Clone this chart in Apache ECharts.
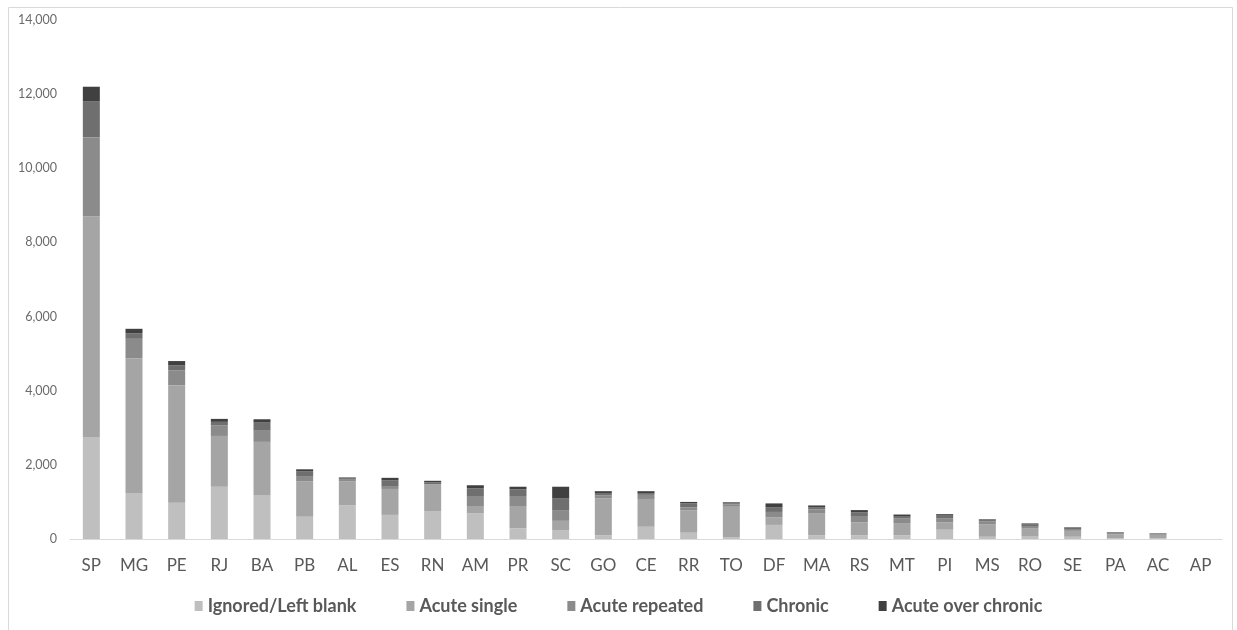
<!DOCTYPE html>
<html>
<head>
<meta charset="utf-8">
<script src="https://cdn.jsdelivr.net/npm/echarts@6/dist/echarts.min.js"></script>
<style>
  html, body { margin: 0; padding: 0; background: #ffffff; }
  #chart { width: 1237px; height: 630px; }
</style>
</head>
<body>
<div id="chart"></div>
<script>
// Notified cases by state, split by exposure type
const states = ['SP','MG','PE','RJ','BA','PB','AL','ES','RN','AM','PR','SC','GO','CE','RR','TO','DF','MA','RS','MT','PI','MS','RO','SE','PA','AC','AP'];

const ignoredBlank   = [2750,1230, 980,1410,1190, 600, 910, 650, 740, 690, 290, 240, 100, 330, 170,  50, 380, 100, 100, 100, 250,  60,  80,  60,  20,  20, 0];
const acuteSingle    = [5950,3640,3170,1370,1430, 950, 650, 700, 740, 200, 600, 250,1000, 750, 600, 820, 200, 600, 350, 330, 200, 340, 200, 160, 110,  90, 0];
const acuteRepeated  = [2140, 530, 400, 290, 300, 130,  40,  60,   0, 250, 250, 290,  80, 110,  80,  60, 150, 100, 170, 120, 100,  80,  70,  50,  30,  20, 0];
const chronic        = [ 960, 150, 130,  90, 220, 150,  30, 170,  50, 230, 200, 310,  60,  50, 110,  30, 130,  60, 100,  70,  80,  30,  40,  30,  15,  15, 0];
const acuteOnChronic = [ 400, 120, 120,  80,  90,  50,  30,  70,  40,  80,  70, 320,  50,  50,  40,  30, 100,  45,  60,  40,  40,  20,  30,  15,  10,  10, 0];

const yTicks = [0, 2000, 4000, 6000, 8000, 10000, 12000, 14000];

const seriesDefs = [
  { name: 'Ignored/Left blank', data: ignoredBlank,   color: '#bfbfbf' },
  { name: 'Acute single',       data: acuteSingle,    color: '#a5a5a5' },
  { name: 'Acute repeated',     data: acuteRepeated,  color: '#8b8b8b' },
  { name: 'Chronic',            data: chronic,        color: '#6f6f6f' },
  { name: 'Acute over chronic', data: acuteOnChronic, color: '#404040' }
];

const chart = echarts.init(document.getElementById('chart'), null, { renderer: 'canvas' });

chart.setOption({
  backgroundColor: '#ffffff',
  animation: false,
  textStyle: { fontFamily: 'Lato, "Open Sans", sans-serif' },
  graphic: [{
    type: 'rect',
    left: 6, top: 5,
    shape: { width: 1224, height: 640 },
    style: { fill: 'none', stroke: '#d9d9d9', lineWidth: 1 },
    silent: true
  }],
  grid: { left: 70, right: 15, top: 20, bottom: 91, containLabel: false },
  legend: {
    bottom: 10,
    left: 'center',
    itemWidth: 8,
    itemHeight: 10,
    itemGap: 50,
    icon: 'rect',
    textStyle: { fontSize: 18, fontWeight: 'bold', color: '#595959', fontFamily: 'Lato, sans-serif' },
    data: seriesDefs.map(s => s.name)
  },
  xAxis: {
    type: 'category',
    data: states,
    axisLine: { show: true, lineStyle: { color: '#d9d9d9', width: 1 } },
    axisTick: { show: false },
    axisLabel: { color: '#595959', fontSize: 17, margin: 18, interval: 0 }
  },
  yAxis: {
    type: 'value',
    min: 0,
    max: yTicks[yTicks.length - 1],
    interval: 2000,
    splitLine: { show: false },
    axisLine: { show: false },
    axisTick: { show: false },
    axisLabel: {
      color: '#6b6b6b',
      fontSize: 12.5,
      margin: 13,
      formatter: v => v.toLocaleString('en-US')
    }
  },
  series: seriesDefs.map(s => ({
    name: s.name,
    type: 'bar',
    stack: 'total',
    barWidth: 17,
    itemStyle: { color: s.color },
    data: s.data
  }))
});
</script>
</body>
</html>
